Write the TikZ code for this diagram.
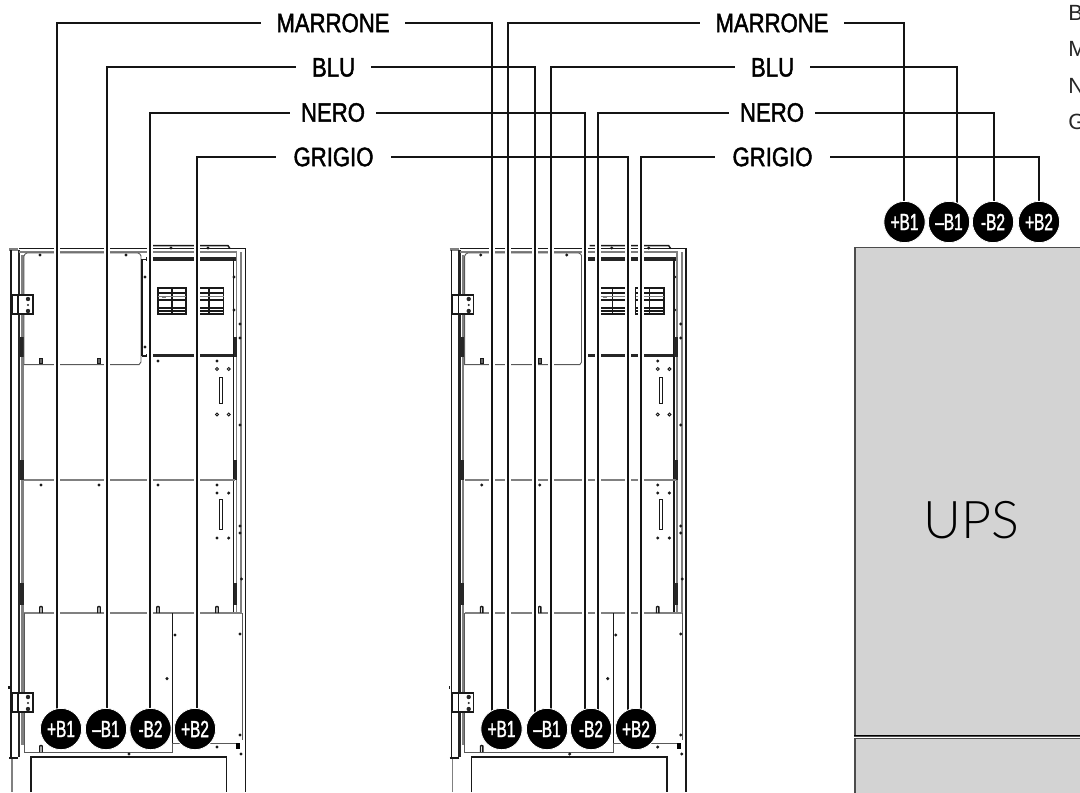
\documentclass[tikz,border=0pt]{standalone}
\usepackage{fontspec}
\setmainfont{Liberation Sans}
\newfontfamily\labfont[FakeStretch=0.83,FakeBold=1.6]{Liberation Sans}
\newfontfamily\termfont[FakeStretch=0.66,FakeBold=1.6]{Liberation Sans}
\newfontfamily\lightfont{Lato Light}
\tikzset{
  wire/.style={draw=black!92,line width=1.5pt,line join=miter},
  halo/.style={draw=white,line width=5.2pt},
  lab/.style={inner sep=0pt,minimum height=20,font=\labfont\fontsize{20pt}{20pt}\selectfont,text=black},
  term/.style={circle,fill=black,draw=white,line width=0.6pt,minimum size=31pt,inner sep=0pt,text=white,font=\termfont\fontsize{17.5pt}{17.5pt}\selectfont},
  thinl/.style={draw=black!65,line width=0.7pt},
  greyl/.style={draw=black!50,line width=1.2pt},
  darkl/.style={draw=black!90,line width=1.1pt},
  heavy/.style={draw=black!85,line width=2pt},
  upsbox/.style={draw=black!70,line width=1pt,fill=upsgrey},
  legend/.style={inner sep=0pt,anchor=west,text=black!85,font=\fontsize{16.5pt}{16.5pt}\selectfont},
}
\definecolor{upsgrey}{HTML}{D3D3D3}
\newcommand{\cabinet}{%
  % left columns
  \draw[greyl,line width=1.8pt] (9,249.3)--(18,249.3);
  \draw[darkl] (11,250)--(11,758);
  \draw[greyl,line width=0.8pt] (12,758)--(12,792);
  \draw[darkl] (9,758)--(18,758);
  \draw[heavy] (19,250)--(19,757);
  \draw[greyl,line width=1.6pt] (22.5,255)--(22.5,745);
  \draw[heavy,line width=2.6pt] (22,460)--(22,480) (22,337)--(22,357) (22,583)--(22,605);
  \draw[darkl] (9,686)--(9,689);
  % top rails
  \draw[darkl] (19,248.6)--(246,248.6);
  \draw[greyl] (19,252)--(237,252);
  \draw[darkl] (149,245.7)--(228,245.7)--(230,248.6);
  \draw[heavy,line width=2.8pt] (146,258.7)--(236,258.7);
  \draw[heavy,line width=1.9pt] (146,355.3)--(235,355.3);
  % upper plate
  \draw[thinl] (24,364.7)--(24,256) to[bend left=30] (27,253)--(138,253) to[bend left=30] (141,256)--(141,362) to[bend left=30] (139,364.7)--cycle;
  \draw[darkl,line width=1.5pt] (142,259)--(142,356);
  \draw[darkl] (142,259.5)--(147,259.5) (142,356)--(147,356);
  % right columns
  \draw[darkl] (233.5,259)--(233.5,613);
  \draw[greyl] (236.5,252)--(236.5,613);
  \draw[greyl,line width=1.8pt] (241,252)--(241,612);
  \draw[darkl] (245.5,249)--(245.5,792);
  \draw[heavy,line width=2.6pt] (235.5,337)--(235.5,357) (235.5,460)--(235.5,480) (235.5,583)--(235.5,605);
  % windows
  \draw[darkl] (158,288) rectangle (186,314) (172,288)--(172,314);
  \draw[darkl] (158,293)--(186,293) (158,300)--(186,300) (158,308)--(186,308) (158,311)--(186,311);
  \draw[greyl,line width=0.8pt] (158,296.5)--(186,296.5) (162,297)--(166,297);
  \draw[darkl] (195,288) rectangle (223.5,314) (209,288)--(209,314);
  \draw[darkl] (195,293)--(223.5,293) (195,300)--(223.5,300) (195,308)--(223.5,308) (195,311)--(223.5,311);
  \draw[greyl,line width=0.8pt] (195,296.5)--(223.5,296.5);
  % slots
  \draw[darkl,line width=0.6pt] (219,377) rectangle (222,403) (219,499) rectangle (222,529);
  % mid rails
  \draw[greyl,line width=1.5pt] (24,480)--(235,480);
  \draw[greyl,line width=1pt] (24,613)--(242,613);
  % lower plates
  \draw[darkl,line width=0.9pt] (172.5,613)--(172.5,743);
  \draw[thinl] (242,613)--(242,740) (172.5,743)--(236,743);
  \draw[thinl] (24,613)--(24,752)--(172.5,752)--(172.5,743);
  % hinges
  \foreach \y in {295,693}{
    \draw[darkl,line width=0.8pt,fill=white] (12,\y) rectangle (33,\y+19);
    \draw[darkl,line width=0.8pt] (18,\y)--(18,\y+19);
    \fill[black!85] (28,\y+4) circle (2.2) (28,\y+10) circle (1.1) (28,\y+16) circle (2.2);
  }
  % notches
  \foreach \x in {41,99,158,217}{
    \draw[darkl,line width=1pt] (\x-1.2,613)--(\x-1.2,607) to[bend left=60] (\x+1.2,607)--(\x+1.2,613);
  }
  \foreach \x in {41,99}{
    \draw[black!90,line width=0.6pt,fill=black!60] (\x-1.3,358.5) rectangle (\x+1.3,363.5);
  }
  \draw[darkl,line width=1pt] (39.8,752)--(39.8,746) to[bend left=60] (42.2,746)--(42.2,752);
  % bottom box
  \draw[darkl] (31,792)--(31,757)--(226.5,757)--(226.5,792);
  \fill[black] (236,743) rectangle (240,749);
  % dots
  \foreach \x/\y in {40/255,126/255,145/277,145/347,234/277,234/310,171/248,208/248,158/361,217/361,
     41/485,99/485,158/485,217/485,217/493,228.7/493,217/538,228.7/538,
     240/324,240/338,240/425,240/526,240/533,241.5/579,
     175/635,167/678.6,240/634,240/735,129/754,217/747,241/754}{
    \fill[black!90] (\x,\y) circle (1.7);
  }
  \foreach \x/\y in {217/369,228.7/369,217/414.5,228.7/414.5}{
    \draw[black!90,line width=0.7pt,fill=white] (\x,\y) circle (1.5);
  }
}
\begin{document}
\begin{tikzpicture}[x=0.75pt,y=-0.75pt]
\useasboundingbox (0,0) rectangle (1080,792);
\clip (0,0) rectangle (1080,792);
\fill[white] (0,0) rectangle (1080,792);
\begin{scope}\cabinet\end{scope}
\begin{scope}[shift={(440.7,0)}]\cabinet\end{scope}
% UPS
\node[upsbox,anchor=north west,inner sep=0pt,minimum width=300*0.75pt,minimum height=489*0.75pt] (ups) at (854.3,246.5) {};
\node[upsbox,anchor=north west,inner sep=0pt,minimum width=300*0.75pt,minimum height=80*0.75pt] (ups2) at (854.3,737.5) {};
\draw[black,line width=1.4pt] (854.3,735.5)--(1080,735.5);
\node[inner sep=0pt,text=black,font=\lightfont\fontsize{39pt}{39pt}\selectfont] (upstext) at (971.5,520) {UPS};
% legend
\node[legend] (lb) at (1068,13) {B};
\node[legend] (lm) at (1068,49) {M};
\node[legend] (ln) at (1068,86) {N};
\node[legend] (lg) at (1068,122) {G};
% halos
\foreach \x in {57,107,150,197,492,508,535,551,585,598,628,641}{
  \draw[halo] (\x,236)--(\x,729);
}
% labels
\node[lab,minimum width=144*0.75pt] (m1) at (333,23) {MARRONE};
\node[lab,minimum width=75*0.75pt] (b1) at (333.5,67.5) {BLU};
\node[lab,minimum width=86*0.75pt] (n1) at (333,112.5) {NERO};
\node[lab,minimum width=115*0.75pt] (g1) at (333.5,157) {GRIGIO};
\node[lab,minimum width=144*0.75pt] (m2) at (772,23) {MARRONE};
\node[lab,minimum width=75*0.75pt] (b2) at (772.5,67.5) {BLU};
\node[lab,minimum width=86*0.75pt] (n2) at (772,112.5) {NERO};
\node[lab,minimum width=115*0.75pt] (g2) at (772.5,157) {GRIGIO};
% wire end points under the terminals
\coordinate (a1) at (57,729); \coordinate (a2) at (107,729); \coordinate (a3) at (150,729); \coordinate (a4) at (197,729);
\coordinate (c1) at (492,729); \coordinate (c2) at (535,729); \coordinate (c3) at (585,729); \coordinate (c4) at (628,729);
\coordinate (d1) at (508,729); \coordinate (d2) at (551,729); \coordinate (d3) at (598,729); \coordinate (d4) at (641,729);
\coordinate (e1) at (904,222); \coordinate (e2) at (957,222); \coordinate (e3) at (994,222); \coordinate (e4) at (1039,222);
% wires
\draw[wire] (m1.west) -| (a1);
\draw[wire] (b1.west) -| (a2);
\draw[wire] (n1.west) -| (a3);
\draw[wire] (g1.west) -| (a4);
\draw[wire] (m1.east) -| (c1);
\draw[wire] (b1.east) -| (c2);
\draw[wire] (n1.east) -| (c3);
\draw[wire] (g1.east) -| (c4);
\draw[wire] (m2.west) -| (d1);
\draw[wire] (b2.west) -| (d2);
\draw[wire] (n2.west) -| (d3);
\draw[wire] (g2.west) -| (d4);
\draw[wire] (m2.east) -| (e1);
\draw[wire] (b2.east) -| (e2);
\draw[wire] (n2.east) -| (e3);
\draw[wire] (g2.east) -| (e4);
% terminals
\node[term] (t1) at (61,729) {+B1};
\node[term] (t2) at (106,729) {–B1};
\node[term] (t3) at (150.5,729) {-B2};
\node[term] (t4) at (195,729) {+B2};
\node[term] (t5) at (501.5,729) {+B1};
\node[term] (t6) at (547,729) {–B1};
\node[term] (t7) at (591,729) {-B2};
\node[term] (t8) at (636,729) {+B2};
\node[term] (t9) at (904.5,222) {+B1};
\node[term] (t10) at (949,222) {–B1};
\node[term] (t11) at (993,222) {-B2};
\node[term] (t12) at (1039,222) {+B2};
\end{tikzpicture}
\end{document}
